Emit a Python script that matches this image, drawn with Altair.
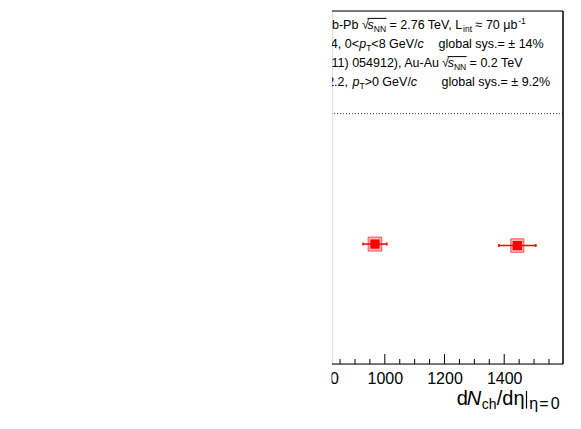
import altair as alt
import pandas as pd

# ---------------- data ----------------
experiments = ["PHENIX Au-Au 0.2 TeV", "ALICE Pb-Pb 2.76 TeV"]
dndeta = [967, 1444]          # dNch/deta at eta=0
raa = [0.479, 0.473]          # y value
dndeta_err = [40, 62]         # horizontal error bars
dndeta_sys = [23, 22]         # systematic box half-width (x)
raa_sys = [0.028, 0.027]      # systematic box half-height (y)

major_ticks = [800, 1000, 1200, 1400]
minor_ticks = [850, 900, 950, 1050, 1100, 1150, 1250, 1300, 1350, 1450, 1500, 1550]
reference_level = 1.0

# ---------------- layout ----------------
W, H = 231, 353
X_VISIBLE_MIN, X_MAX = 823, 1597
X_LABEL_MIN = 800
Y_DOMAIN = [0, 1.41]
FONT = "Liberation Sans"
RED = "#ff0000"

range_left = -(X_VISIBLE_MIN - X_LABEL_MIN) * W / (X_MAX - X_VISIBLE_MIN)
xscale = alt.Scale(domain=[X_LABEL_MIN, X_MAX], range=[range_left, W], zero=False, nice=False)
yscale = alt.Scale(domain=Y_DOMAIN, zero=False, nice=False)

df = pd.DataFrame({
    "exp": experiments, "x": dndeta, "y": raa,
    "xerr": dndeta_err, "xsys": dndeta_sys, "ysys": raa_sys,
})
df["xlo"] = df.x - df.xerr
df["xhi"] = df.x + df.xerr
df["xslo"] = df.x - df.xsys
df["xshi"] = df.x + df.xsys
df["yslo"] = df.y - df.ysys
df["yshi"] = df.y + df.ysys
df["ycl"] = df.y - 0.006
df["ych"] = df.y + 0.006

one = alt.Data(values=[{"a": 1}])
base = alt.Chart(df)

X_AXIS = alt.Axis(values=major_ticks, format="d", ticks=False, domain=False, grid=False, title=None,
                  labelFont=FONT, labelFontSize=16, labelPadding=6, labelColor="black",
                  labelFlush=False, labelOverlap=False, zindex=0)

axis_layer = alt.Chart(pd.DataFrame({"v": major_ticks})).mark_point(opacity=0).encode(
    x=alt.X("v:Q", scale=xscale, axis=X_AXIS),
    y=alt.Y("yv:Q", scale=yscale, axis=None),
).transform_calculate(yv="0.5")

ref_line = alt.Chart(one).mark_rule(color="#333333", strokeWidth=1, strokeDash=[1, 2]).encode(
    y=alt.datum(reference_level, scale=yscale))

ticks_major = alt.Chart(pd.DataFrame({"t": major_ticks})).mark_rule(color="black", clip=True).encode(
    x=alt.X("t:Q", scale=xscale), y=alt.value(H), y2=alt.value(H - 10))
ticks_minor = alt.Chart(pd.DataFrame({"t": minor_ticks})).mark_rule(color="black", clip=True).encode(
    x=alt.X("t:Q", scale=xscale), y=alt.value(H), y2=alt.value(H - 5))

boxes = base.mark_rect(fill=RED, fillOpacity=0.3, stroke=RED, strokeWidth=1, strokeOpacity=0.6).encode(
    x=alt.X("xslo:Q", scale=xscale), x2="xshi:Q",
    y=alt.Y("yslo:Q", scale=yscale), y2="yshi:Q")
errbars = base.mark_rule(color=RED, strokeWidth=1.5).encode(
    x=alt.X("xlo:Q", scale=xscale), x2="xhi:Q", y=alt.Y("y:Q", scale=yscale))
cap_lo = base.mark_rule(color=RED, strokeWidth=1.5).encode(
    x=alt.X("xlo:Q", scale=xscale), y=alt.Y("ycl:Q", scale=yscale), y2="ych:Q")
cap_hi = base.mark_rule(color=RED, strokeWidth=1.5).encode(
    x=alt.X("xhi:Q", scale=xscale), y=alt.Y("ycl:Q", scale=yscale), y2="ych:Q")
markers = base.mark_square(size=85, color=RED, opacity=1, filled=True).encode(
    x=alt.X("x:Q", scale=xscale), y=alt.Y("y:Q", scale=yscale))

frame_top = alt.Chart(one).mark_rule(color="black", strokeWidth=1).encode(
    x=alt.value(0), x2=alt.value(W), y=alt.value(0))
frame_right = alt.Chart(one).mark_rule(color="black", strokeWidth=1.5).encode(
    x=alt.value(W), y=alt.value(0), y2=alt.value(H))
frame_bottom = alt.Chart(one).mark_rule(color="black", strokeWidth=1).encode(
    x=alt.value(0), x2=alt.value(W), y=alt.value(H))

# ---------------- legend text (clipped at the frame's left edge) ----------------
MAIN, SUBS = 12.5, 8.5
ADV = {' ': 278, '%': 889, '(': 333, ')': 333, ',': 278, '-': 333, '.': 278, '/': 278,
       '<': 584, '=': 584, '>': 584, '|': 260, 'A': 667, 'C': 722, 'E': 667, 'G': 778,
       'H': 722, 'I': 278, 'L': 556, 'N': 722, 'P': 667, 'T': 611, 'V': 667, 'X': 667,
       'a': 556, 'b': 556, 'c': 500, 'e': 556, 'g': 556, 'h': 556, 'i': 222, 'l': 222,
       'n': 556, 'o': 556, 'p': 556, 's': 500, 't': 278, 'u': 556, 'y': 500,
       '\u00b1': 584, '\u2248': 584, '\u03bc': 577, '\u221a': 450, '\u03b7': 556}


def text_width(s, size):
    return sum(ADV.get(ch, 556) for ch in s) * size / 1000.0


ROW_Y = [17.7, 36.8, 55.9, 75.0]
# (text, kind, kerning shift before the piece)
rows = [
    {"prefix": ("ALICE (J/\u03c8) Pb-Pb", 26.4), "start": 29.9,
     "chain": [("\u221a", "Q", 0), ("s", "I", 0), ("NN", "S", 0), (" = 2.76 TeV, L", "N", 0),
               ("int", "S", -1.8), (" \u2248 70 \u03bcb", "N", 0), ("-1", "P", 0.3)], "extra": []},
    {"prefix": ("2.5<y<4, 0<", 27.0), "start": 27.2,
     "chain": [("p", "I", 0), ("T", "S", 0), ("<8 GeV/", "N", 0), ("c", "I", 0)],
     "extra": [("global sys.= \u00b1 14%", 106.5)]},
    {"prefix": ("PHENIX (PRC 84 (2011) 054912), Au-Au", 107.0), "start": 110.0,
     "chain": [("\u221a", "Q", 0), ("s", "I", 0), ("NN", "S", 0), (" = 0.2 TeV", "N", 0)],
     "extra": []},
    {"prefix": ("1.2<|y|<2.2,", 16.0), "start": 20.5,
     "chain": [("p", "I", 0), ("T", "S", 0), (">0 GeV/", "N", 0), ("c", "I", 0)],
     "extra": [("global sys.= \u00b1 9.2%", 109.5)]},
]


def txt(text, x, y, size, align="left", style="normal", clip=True):
    return alt.Chart(one).mark_text(
        text=text, x=x, y=y, align=align, baseline="alphabetic",
        font=FONT, fontSize=size, fontStyle=style, color="black", clip=clip)


text_layers = []
vinculum = []
for r, row in enumerate(rows):
    y0 = ROW_Y[r]
    ptxt, px = row["prefix"]
    text_layers.append(txt(ptxt, px, y0, MAIN, align="right"))
    x = row["start"]
    sqrt_end = None
    for s, kind, kern in row["chain"]:
        if kind in ("S", "P"):
            size = SUBS
            dy = 3.0 if kind == "S" else -5.0
        else:
            size = MAIN
            dy = 0.0
        style = "italic" if kind == "I" else "normal"
        x += kern
        # leading blanks are collapsed by SVG: advance the pen instead
        stripped = s.lstrip(" ")
        x += text_width(s[: len(s) - len(stripped)], size)
        text_layers.append(txt(stripped, x, y0 + dy, size, style=style))
        if kind == "Q":
            sqrt_end = x + text_width(stripped, size)
        x += text_width(stripped, size)
        if kind == "S" and sqrt_end is not None and s == "NN":
            vinculum.append(alt.Chart(one).mark_rule(color="black", strokeWidth=1).encode(
                x=alt.value(sqrt_end), x2=alt.value(x + 0.5), y=alt.value(y0 - 10.3)))
            sqrt_end = None
    for s, ex in row["extra"]:
        text_layers.append(txt(s, ex, y0, MAIN))

# ---------------- x-axis title dN_ch/deta|_eta=0 ----------------
TY = 394
title_layers = [
    txt("d", 124.7, TY, 20, clip=False),
    txt("N", 134.7, TY, 20, style="italic", clip=False),
    txt("ch", 149.7, TY + 4, 14, clip=False),
    txt("/d\u03b7", 164.7, TY, 20, clip=False),
    alt.Chart(one).mark_rule(color="black", strokeWidth=1.2).encode(
        x=alt.value(194.5), y=alt.value(TY - 14), y2=alt.value(TY + 3.5)),
    txt("\u03b7", 197.3, TY + 4.3, 16, clip=False),
    txt("=", 207.3, TY + 4.3, 16, clip=False),
    txt("0", 218.8, TY + 4.3, 16, clip=False),
]

# white mask hiding everything left of the frame
mask = alt.Chart(one).mark_rect(color="white", opacity=1).encode(
    x=alt.value(-330), x2=alt.value(-0.5), y=alt.value(-5), y2=alt.value(H + 60))

chart = alt.layer(
    axis_layer, ref_line, ticks_minor, ticks_major, boxes, errbars, cap_lo, cap_hi, markers,
    frame_top, frame_right, frame_bottom, *vinculum, *text_layers, *title_layers, mask,
).properties(
    width=W, height=H,
    padding={"left": 324, "top": 3, "right": 10, "bottom": 57},
    autosize=alt.AutoSizeParams(type="none"),
).configure_view(stroke=None).configure(background="white")

chart.save("out.html", embed_options={"renderer": "svg", "actions": False})
